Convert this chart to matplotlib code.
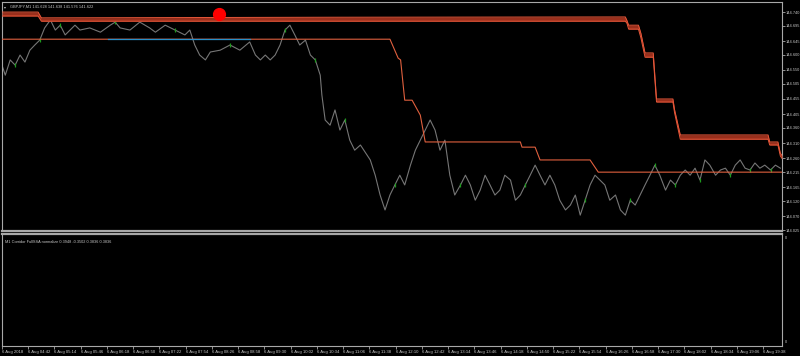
import matplotlib
matplotlib.use("Agg")
import matplotlib.pyplot as plt
import numpy as np

plt.rcParams['font.family'] = ['Liberation Sans', 'DejaVu Sans']

# ---------------- data ----------------
title_text = "GBPJPY,M1 141.628 141.638 141.576 141.622"
indicator_text = "M1 Corridor FullSSA normalize 0.3948 -0.3502 0.3836 0.3836"

price_minutes = [0, 4, 10, 16, 22, 28, 34, 40, 46, 52, 59, 65, 71, 77, 83, 89, 95, 107, 120, 132,
                 138, 144, 156, 168, 180, 187, 199, 211, 223, 229, 235, 241, 248, 254, 266, 278, 290, 302, 309, 315,
                 321, 327, 333, 339, 345, 351, 357, 363, 370, 376, 382, 388, 390, 394, 400, 406, 412, 418, 424, 430,
                 437, 449, 455, 461, 467, 473, 479, 485, 491, 498, 504, 510, 516, 522, 528, 534, 540, 546, 552, 559,
                 565, 571, 577, 583, 589, 595, 601, 607, 613, 620, 626, 632, 638, 644, 650, 656, 662, 668, 674, 680,
                 687, 693, 699, 705, 711, 717, 723, 729, 735, 741, 748, 754, 760, 766, 772, 778, 784, 790, 796, 802,
                 809, 815, 821, 827, 833, 839, 845, 851, 857, 863, 870, 876, 882, 888, 894, 900, 906, 912, 918, 924,
                 930, 937, 943, 949]
price_close = [144.566, 144.533, 144.583, 144.566, 144.599, 144.576, 144.615, 144.632, 144.648, 144.688,
               144.714, 144.681, 144.697, 144.665, 144.681, 144.697, 144.681, 144.688, 144.674, 144.697,
               144.707, 144.688, 144.681, 144.707, 144.688, 144.674, 144.697, 144.681, 144.665, 144.681,
               144.632, 144.599, 144.583, 144.609, 144.615, 144.632, 144.615, 144.642, 144.599, 144.583,
               144.599, 144.583, 144.599, 144.632, 144.681, 144.697, 144.665, 144.632, 144.648, 144.599,
               144.583, 144.533, 144.468, 144.386, 144.369, 144.419, 144.353, 144.386, 144.320, 144.287,
               144.304, 144.255, 144.205, 144.140, 144.091, 144.140, 144.173, 144.205, 144.173, 144.238,
               144.287, 144.320, 144.353, 144.386, 144.353, 144.287, 144.320, 144.205, 144.140, 144.173,
               144.205, 144.173, 144.123, 144.156, 144.205, 144.173, 144.140, 144.156, 144.205, 144.189,
               144.123, 144.140, 144.173, 144.205, 144.238, 144.205, 144.173, 144.205, 144.173, 144.123,
               144.091, 144.107, 144.140, 144.074, 144.123, 144.173, 144.205, 144.189, 144.173, 144.123,
               144.140, 144.091, 144.074, 144.123, 144.107, 144.140, 144.173, 144.205, 144.238, 144.205,
               144.156, 144.189, 144.173, 144.205, 144.222, 144.205, 144.228, 144.189, 144.255, 144.238,
               144.205, 144.222, 144.228, 144.205, 144.238, 144.255, 144.228, 144.222, 144.245, 144.228,
               144.238, 144.222, 144.238, 144.228]
green_points = [3, 8, 12, 20, 27, 35, 44, 50, 57, 66, 79, 92, 104, 113, 118, 122, 127, 133, 137, 141]

upper_minutes = [0, 44, 48, 400, 760, 762, 764, 776, 779, 784, 794, 798, 818, 820, 827, 934, 936, 946, 949, 951]
upper_top = [144.740, 144.740, 144.721, 144.723, 144.724, 144.712, 144.697, 144.697, 144.670, 144.606,
             144.606, 144.455, 144.455, 144.420, 144.337, 144.337, 144.314, 144.314, 144.277, 144.270]
upper_bot = [144.727, 144.727, 144.710, 144.710, 144.710, 144.703, 144.684, 144.684, 144.655, 144.592,
             144.592, 144.445, 144.445, 144.410, 144.323, 144.323, 144.304, 144.304, 144.268, 144.260]

lower_minutes = [0, 473, 483, 486, 491, 500, 510, 516, 632, 634, 650, 656, 717, 727, 951]
lower_price = [144.651, 144.651, 144.589, 144.583, 144.451, 144.451, 144.402, 144.314, 144.314, 144.297,
               144.297, 144.255, 144.255, 144.215, 144.215]

blue_minutes = [129, 302]
blue_price = [144.651, 144.651]

dot_minute = 265
dot_price = 144.733

price_ticks = [144.740, 144.695, 144.645, 144.600, 144.550, 144.505, 144.455, 144.405,
               144.360, 144.310, 144.260, 144.215, 144.165, 144.120, 144.070, 144.025]
price_tick_labels = ["144.740", "144.695", "144.645", "144.600", "144.550", "144.505", "144.455", "144.405",
                     "144.360", "144.310", "144.260", "144.215", "144.165", "144.120", "144.070", "144.025"]

time_tick_minutes = list(range(0, 929, 32))
time_tick_labels = ["6 Aug 2018", "6 Aug 04:42", "6 Aug 05:14", "6 Aug 05:46", "6 Aug 06:18", "6 Aug 06:50",
                    "6 Aug 07:22", "6 Aug 07:54", "6 Aug 08:26", "6 Aug 08:58", "6 Aug 09:30", "6 Aug 10:02",
                    "6 Aug 10:34", "6 Aug 11:06", "6 Aug 11:38", "6 Aug 12:10", "6 Aug 12:42", "6 Aug 13:14",
                    "6 Aug 13:46", "6 Aug 14:18", "6 Aug 14:50", "6 Aug 15:22", "6 Aug 15:54", "6 Aug 16:26",
                    "6 Aug 16:58", "6 Aug 17:30", "6 Aug 18:02", "6 Aug 18:34", "6 Aug 19:06", "6 Aug 19:38"]

# ---------------- figure ----------------
BG = "black"
AXC = "#a8a8a8"
TXT = "#c8c8c8"
FS = 3.1
FS_Y = 2.8
FS_T = 2.8

fig = plt.figure(figsize=(8, 3.56), dpi=100, facecolor=BG)
ax = fig.add_axes([2/800, 1-231/356, 780/800, 229/356], facecolor=BG)
ax2 = fig.add_axes([2/800, 1-346/356, 780/800, 112/356], facecolor=BG)

xmin, xmax = 0, 951
for a in (ax, ax2):
    a.set_xlim(xmin, xmax)
    for s in a.spines.values():
        s.set_color(AXC)
        s.set_linewidth(0.8)

ax.set_ylim(144.022, 144.773)

# price line
ax.plot(price_minutes, price_close, color="#767676", lw=0.8, zorder=2)
gx = [price_minutes[i] for i in green_points]
gy = [price_close[i] for i in green_points]
ax.plot(gx, gy, linestyle="none", marker="|", color="#1f9a1f", ms=3, mew=0.9, zorder=3)

# upper corridor band
ax.fill_between(upper_minutes, upper_bot, upper_top, color="#9a2f1c", lw=0, zorder=4)
ax.plot(upper_minutes, upper_top, color="#e8583a", lw=0.7, zorder=5)
ax.plot(upper_minutes, upper_bot, color="#e8583a", lw=0.7, zorder=5)

# lower line
ax.plot(lower_minutes, lower_price, color="#e0603e", lw=0.8, zorder=5)
ax.plot(blue_minutes, blue_price, color="#2a90c8", lw=0.9, zorder=6)

# dot
ax.plot([dot_minute], [dot_price], "o", color="#ff0000", ms=8.5, zorder=7)

# price axis on right
ax.yaxis.tick_right()
ax.set_yticks(price_ticks)
ax.set_yticklabels(price_tick_labels)
ax.tick_params(axis="y", colors=AXC, labelcolor=TXT, labelsize=FS_Y, length=2, width=0.6, pad=1)
ax.set_xticks([])
ax.spines["bottom"].set_linewidth(1.6)

ax.text(0.003, 0.988, "\u25be", transform=ax.transAxes, color=TXT, fontsize=FS_T,
        va="top", ha="left", family=["DejaVu Sans"])
ax.text(0.010, 0.990, title_text, transform=ax.transAxes, color=TXT, fontsize=FS_T, va="top", ha="left")

# indicator panel
ax2.set_ylim(0, 1)
ax2.set_yticks([])
ax2.spines["top"].set_linewidth(1.6)
ax2.text(1.004, 0.985, "0", transform=ax2.transAxes, color=TXT, fontsize=FS_Y, va="top", ha="left")
ax2.text(1.004, 0.02, "0", transform=ax2.transAxes, color=TXT, fontsize=FS_Y, va="bottom", ha="left")
ax2.text(0.004, 0.95, indicator_text, transform=ax2.transAxes, color=TXT, fontsize=FS_T, va="top", ha="left")

ax2.set_xticks(time_tick_minutes)
ax2.set_xticklabels(time_tick_labels)
for lab in ax2.get_xticklabels():
    lab.set_horizontalalignment("left")
ax2.tick_params(axis="x", colors=AXC, labelcolor=TXT, labelsize=FS, length=2, width=0.6, pad=1)

fig.savefig("out.png", dpi=100, facecolor=BG)
